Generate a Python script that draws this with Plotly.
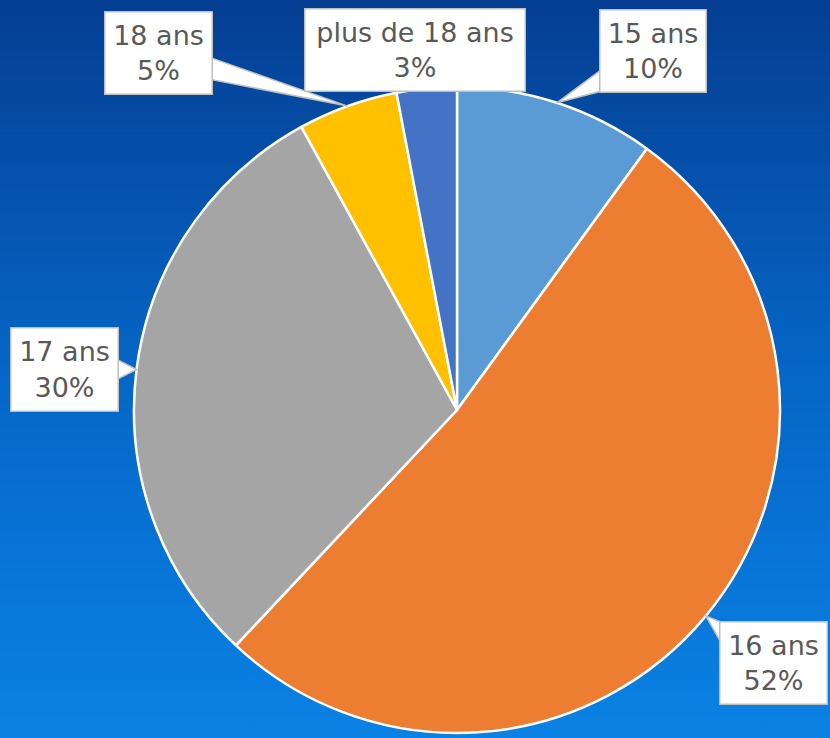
import math, base64
import plotly.graph_objects as go

labels = ["15 ans", "16 ans", "17 ans", "18 ans", "plus de 18 ans"]
values = [10, 52, 30, 5, 3]
colors = ["#5B9BD5", "#ED7D31", "#A5A5A5", "#FFC000", "#4472C4"]
pct_text = ["10%", "52%", "30%", "5%", "3%"]
# label box centres (pixels from top-left) and sizes
box_cx = [653, 773, 64, 158, 415]
box_cy = [51, 663, 369, 53, 50]
box_w = [107, 108, 108, 108, 221]
box_h = [83, 83, 84, 83, 83]

W, H = 830, 738
CX, CY, R = 457, 410, 323

svg = f'''<svg xmlns="http://www.w3.org/2000/svg" width="{W}" height="{H}">
<defs><linearGradient id="g" x1="0" y1="0" x2="0" y2="1">
<stop offset="0" stop-color="#053E93"/><stop offset="0.5" stop-color="#0566C6"/>
<stop offset="1" stop-color="#0A82E4"/></linearGradient></defs>
<rect width="{W}" height="{H}" fill="url(#g)"/></svg>'''
src = "data:image/svg+xml;base64," + base64.b64encode(svg.encode()).decode()

fig = go.Figure()
fig.add_trace(go.Pie(
    labels=labels, values=values, sort=False, direction="clockwise", rotation=0,
    marker=dict(colors=colors, line=dict(color="white", width=2.5)),
    textinfo="none", hoverinfo="label+percent", showlegend=False,
    domain=dict(x=[(CX - R) / W, (CX + R) / W], y=[1 - (CY + R) / H, 1 - (CY - R) / H]),
))


def P(pt):
    return f"{pt[0] / W:.5f},{1 - pt[1] / H:.5f}"


total = sum(values)
cum = 0
shapes = []
annotations = []
for i, v in enumerate(values):
    mid = (cum + v / 2) / total * 2 * math.pi
    cum += v
    tx = CX + R * math.sin(mid)
    ty = CY - R * math.cos(mid)
    bx, by = box_cx[i], box_cy[i]
    dx, dy = tx - bx, ty - by
    hw, hh = box_w[i] / 2, box_h[i] / 2
    tv = hw / abs(dx) if dx else 9e9
    th = hh / abs(dy) if dy else 9e9
    t = min(tv, th)
    if t < 1:
        ex, ey = bx + t * dx, by + t * dy
        if tv <= th:
            ey = max(by - hh + 12, min(by + hh - 12, ey))
            ex1 = ex - 3 * (1 if dx > 0 else -1)
            p1, p2 = (ex1, ey - 11), (ex1, ey + 11)
        else:
            ex = max(bx - hw + 12, min(bx + hw - 12, ex))
            ey1 = ey - 3 * (1 if dy > 0 else -1)
            p1, p2 = (ex - 11, ey1), (ex + 11, ey1)
        shapes.append(dict(type="path", xref="paper", yref="paper",
                           path=f"M {P(p1)} L {P((tx, ty))} L {P(p2)} Z",
                           fillcolor="white", line=dict(color="#BFBFBF", width=1.5),
                           layer="above"))
    annotations.append(dict(
        x=bx / W, y=1 - by / H, xref="paper", yref="paper",
        text=f"{labels[i]}<br>{pct_text[i]}", showarrow=False,
        width=box_w[i] - 4, height=box_h[i] - 4, borderpad=1,
        bgcolor="white", bordercolor="#BFBFBF", borderwidth=1.5,
        font=dict(family="DejaVu Sans", size=27, color="#595959"),
        xanchor="center", yanchor="middle", align="center",
    ))

fig.update_layout(
    width=W, height=H, margin=dict(l=0, r=0, t=0, b=0),
    paper_bgcolor="#0566C6", plot_bgcolor="rgba(0,0,0,0)",
    images=[dict(source=src, xref="paper", yref="paper", x=0, y=1,
                 sizex=1, sizey=1, sizing="stretch", xanchor="left",
                 yanchor="top", layer="below")],
    shapes=shapes, annotations=annotations,
)
fig.write_html("out.html", config={"displayModeBar": False},
               post_script="document.body.style.margin='0';document.body.style.overflow='hidden';")
